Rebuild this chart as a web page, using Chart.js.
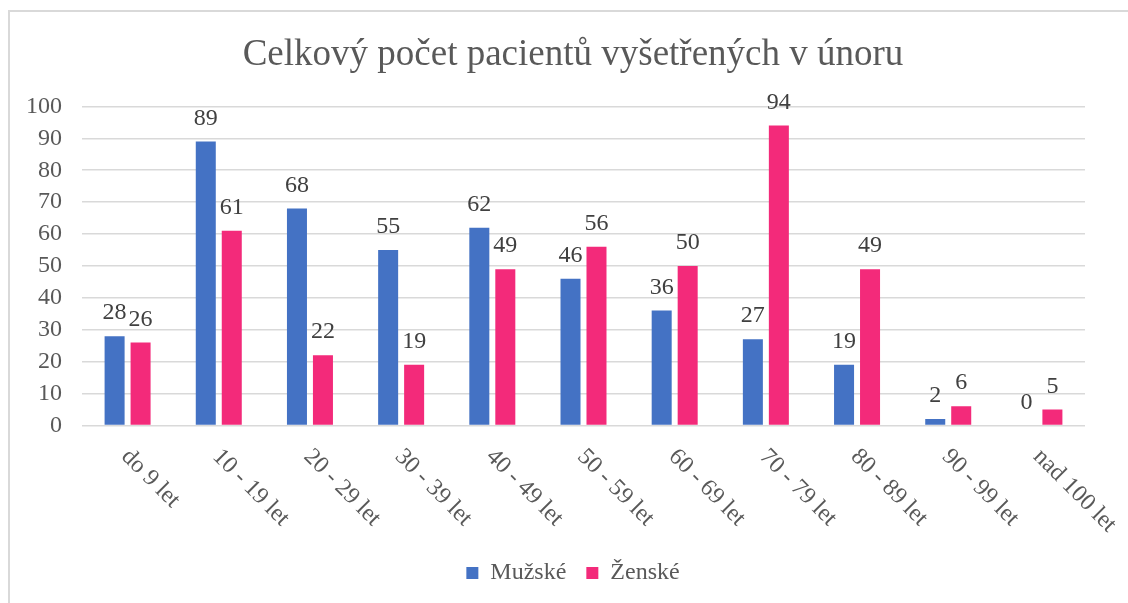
<!DOCTYPE html>
<html>
<head>
<meta charset="utf-8">
<script src="https://cdn.jsdelivr.net/npm/chart.js@4"></script>
<style>
  html, body { margin: 0; padding: 0; background: #ffffff; }
  canvas { display: block; }
</style>
</head>
<body>
<canvas id="c" width="1128" height="603"></canvas>
<script>
const titleText = 'Celkový počet pacientů vyšetřených v únoru';
const categories = ['do 9 let', '10 - 19 let', '20 - 29 let', '30 - 39 let', '40 - 49 let', '50 - 59 let', '60 - 69 let', '70 - 79 let', '80 - 89 let', '90 - 99 let', 'nad 100 let'];
const seriesNames = ['Mužské', 'Ženské'];
const male = [28, 89, 68, 55, 62, 46, 36, 27, 19, 2, 0];
const female = [26, 61, 22, 19, 49, 56, 50, 94, 49, 6, 5];
const yMin = 0, yMax = 100, yStep = 10;

const FONT = "'Liberation Serif', 'Times New Roman', serif";
const TEXT = '#595959';

const framePlugin = {
  id: 'frame',
  beforeDraw(chart) {
    const ctx = chart.ctx;
    ctx.save();
    ctx.fillStyle = '#ffffff';
    ctx.fillRect(0, 0, chart.width, chart.height);
    ctx.fillStyle = '#d9d9d9';
    ctx.fillRect(8, 10, 2, chart.height - 10);
    ctx.fillRect(8, 10, chart.width - 8, 2);
    ctx.restore();
  }
};

const valueLabels = {
  id: 'valueLabels',
  afterDatasetsDraw(chart) {
    const ctx = chart.ctx;
    ctx.save();
    ctx.font = '24px ' + FONT;
    ctx.fillStyle = '#404040';
    ctx.textAlign = 'center';
    ctx.textBaseline = 'alphabetic';
    chart.data.datasets.forEach((ds, di) => {
      const meta = chart.getDatasetMeta(di);
      meta.data.forEach((el, i) => {
        ctx.fillText(String(ds.data[i]), el.x, el.y - 17);
      });
    });
    ctx.restore();
  }
};

const rotatedCategoryLabels = {
  id: 'rotatedCategoryLabels',
  afterDraw(chart) {
    const ctx = chart.ctx;
    const xs = chart.scales.x;
    ctx.save();
    ctx.font = '24px ' + FONT;
    ctx.fillStyle = TEXT;
    ctx.textAlign = 'left';
    ctx.textBaseline = 'alphabetic';
    chart.data.labels.forEach((lab, i) => {
      const x = xs.getPixelForValue(i);
      ctx.save();
      ctx.translate(x - 7, chart.chartArea.bottom + 32);
      ctx.rotate(Math.PI / 4);
      ctx.fillText(lab, 0, 0);
      ctx.restore();
    });
    ctx.restore();
  }
};

new Chart(document.getElementById('c'), {
  type: 'bar',
  data: {
    labels: categories,
    datasets: [
      { label: seriesNames[0], data: male, backgroundColor: '#4472C4', borderWidth: 0 },
      { label: seriesNames[1], data: female, backgroundColor: '#F32A7A', borderWidth: 0 }
    ]
  },
  options: {
    responsive: false,
    animation: false,
    devicePixelRatio: 1,
    layout: { padding: { left: 27, right: 9, top: 0, bottom: 8 } },
    datasets: { bar: { categoryPercentage: 0.57, barPercentage: 0.77 } },
    plugins: {
      title: {
        display: true,
        text: titleText,
        color: TEXT,
        font: { family: FONT, size: 37, weight: 'normal', lineHeight: 1.2 },
        padding: { top: 33, bottom: 29 }
      },
      legend: {
        display: true,
        position: 'bottom',
        labels: {
          boxWidth: 12,
          boxHeight: 12,
          padding: 20,
          color: TEXT,
          font: { family: FONT, size: 24 }
        }
      },
      tooltip: { enabled: false }
    },
    scales: {
      x: {
        grid: { display: false },
        border: { display: false },
        ticks: { display: false },
        afterFit(s) { s.height = 115.5; }
      },
      y: {
        min: yMin,
        max: yMax,
        ticks: { stepSize: yStep, color: TEXT, padding: 20, font: { family: FONT, size: 24 } },
        grid: { color: '#d9d9d9', lineWidth: 1.5, drawTicks: false },
        border: { display: false },
        afterFit(s) { s.width = 55; }
      },
      yRight: {
        position: 'right',
        display: true,
        min: yMin,
        max: yMax,
        ticks: { display: false },
        grid: { display: false, drawTicks: false },
        border: { display: false },
        afterFit(s) { s.width = 34; }
      }
    }
  },
  plugins: [framePlugin, valueLabels, rotatedCategoryLabels]
});
</script>
</body>
</html>
